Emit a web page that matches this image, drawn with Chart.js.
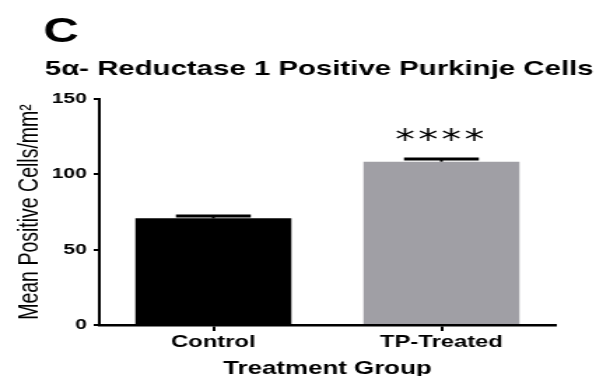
<!DOCTYPE html>
<html>
<head>
<meta charset="utf-8">
<script src="https://cdn.jsdelivr.net/npm/chart.js@4.4.1/dist/chart.umd.min.js"></script>
<style>
  html, body { margin: 0; padding: 0; background: #ffffff; overflow: hidden; }
  /* the figure is drawn on a narrower canvas and widened to the page width */
  #wrap { width: 431px; height: 376px; transform: scaleX(1.3991); transform-origin: 0 0; }
  canvas { display: block; }
</style>
</head>
<body>
<div id="wrap"><canvas id="chart" width="431" height="376" style="width:431px;height:376px"></canvas></div>
<script>
// ---- data ----
const panelLetter = 'C';
const chartTitle = '5α- Reductase 1 Positive Purkinje Cells';
const groups = ['Control', 'TP-Treated'];
const meanCells = [70.8, 108.4];
const semCells = [1.5, 1.8];
const significance = ['', '****'];
const barColors = ['#000000', '#a09fa5'];
const yTicks = [0, 50, 100, 150];
const yTitle = 'Mean Positive Cells/mm²';
const xTitle = 'Treatment Group';

const FONT = "'Liberation Sans', Arial, sans-serif";

// panel letter and heading above the plot
const headingPlugin = {
  id: 'heading',
  afterDraw(chart) {
    const ctx = chart.ctx;
    ctx.save();
    ctx.fillStyle = '#000';
    ctx.textAlign = 'left';
    ctx.textBaseline = 'alphabetic';
    ctx.font = `bold 35px ${FONT}`;
    ctx.fillText(panelLetter, 31, 42);
    ctx.font = `bold 21px ${FONT}`;
    ctx.fillText(chartTitle, 32, 75);
    ctx.restore();
  }
};

// SEM whiskers and significance stars on top of each bar
const errorBarPlugin = {
  id: 'errorBars',
  afterDatasetsDraw(chart) {
    const ctx = chart.ctx;
    const yScale = chart.scales.y;
    const meta = chart.getDatasetMeta(0);
    ctx.save();
    ctx.strokeStyle = '#000';
    ctx.fillStyle = '#000';
    meta.data.forEach((bar, i) => {
      const x = bar.x;
      const yTop = yScale.getPixelForValue(meanCells[i] + semCells[i]);
      const yMean = yScale.getPixelForValue(meanCells[i]);
      const half = bar.width * 0.24;
      ctx.lineWidth = 2;
      ctx.beginPath();
      ctx.moveTo(x, yMean);
      ctx.lineTo(x, yTop);
      ctx.stroke();
      ctx.lineWidth = 3;
      ctx.beginPath();
      ctx.moveTo(x - half, yTop);
      ctx.lineTo(x + half, yTop);
      ctx.stroke();
      if (significance[i]) {
        ctx.font = `28px 'DejaVu Sans', sans-serif`;
        ctx.letterSpacing = '2.5px';
        ctx.textAlign = 'center';
        ctx.textBaseline = 'alphabetic';
        const m = ctx.measureText(significance[i]);
        const inkMid = (m.actualBoundingBoxAscent - m.actualBoundingBoxDescent) / 2;
        ctx.fillText(significance[i], x, yTop - 24 + inkMid);
        ctx.letterSpacing = '0px';
      }
    });
    ctx.restore();
  }
};

new Chart(document.getElementById('chart'), {
  type: 'bar',
  data: {
    labels: groups,
    datasets: [{
      data: meanCells,
      backgroundColor: barColors,
      borderWidth: 0,
      barPercentage: 0.684,
      categoryPercentage: 1.0
    }]
  },
  options: {
    responsive: false,
    animation: false,
    devicePixelRatio: 1,
    layout: { padding: { left: 0, right: 34, top: 99, bottom: 0 } },
    plugins: {
      legend: { display: false },
      tooltip: { enabled: false },
      title: { display: false }
    },
    scales: {
      x: {
        z: 1,
        offset: true,
        grid: {
          display: true,
          drawOnChartArea: false,
          drawTicks: true,
          tickLength: 6,
          tickWidth: 2,
          lineWidth: 2,
          color: '#000',
          offset: false
        },
        border: { display: true, color: '#000', width: 2.5 },
        ticks: {
          color: '#000',
          padding: 1,
          font: { family: FONT, size: 17, weight: 'bold' }
        },
        title: {
          display: true,
          text: xTitle,
          color: '#000',
          padding: { top: 0, bottom: 0 },
          font: { family: FONT, size: 18.5, weight: 'bold', lineHeight: 0.8 }
        },
        afterFit(scale) { scale.height = 51; }
      },
      y: {
        min: yTicks[0],
        max: yTicks[yTicks.length - 1],
        afterBuildTicks(scale) { scale.ticks = yTicks.map(v => ({ value: v })); },
        grid: {
          display: true,
          drawOnChartArea: false,
          drawTicks: true,
          tickLength: 4,
          tickWidth: 2,
          lineWidth: 2,
          color: '#000'
        },
        border: { display: true, color: '#000', width: 2 },
        ticks: {
          color: '#000',
          padding: 5,
          font: { family: FONT, size: 15, weight: 'bold' }
        },
        title: {
          display: true,
          text: yTitle,
          color: '#000',
          padding: { top: 10, bottom: 0 },
          font: { family: FONT, size: 19.5, weight: 'normal' }
        },
        afterFit(scale) { scale.width = 71; }
      }
    }
  },
  plugins: [headingPlugin, errorBarPlugin]
});
</script>
</body>
</html>
